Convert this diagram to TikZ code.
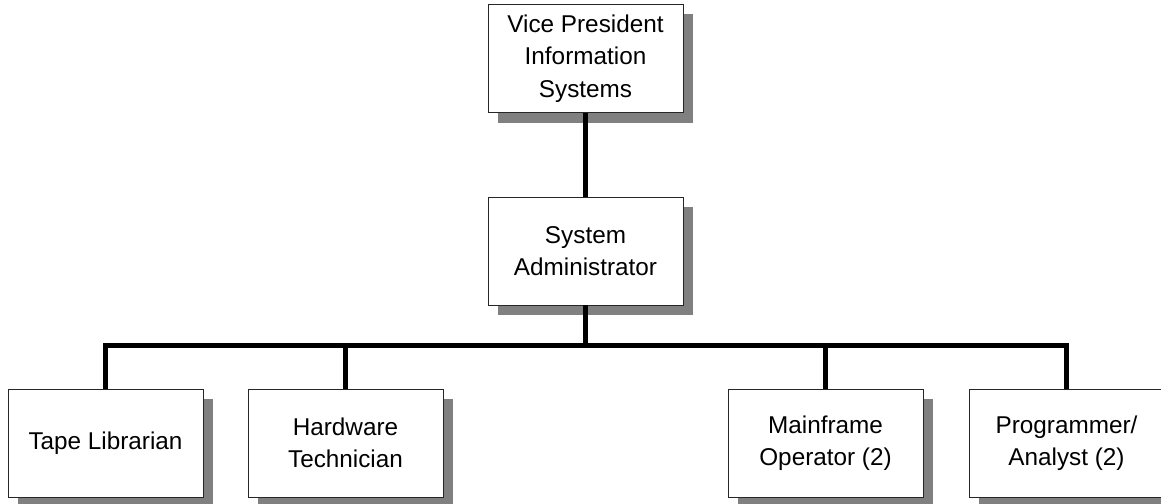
\documentclass[tikz,border=0pt]{standalone}
\usepackage{fontspec}
\setmainfont{Liberation Sans}
\usetikzlibrary{shadows}
\definecolor{shadowgray}{RGB}{128,128,128}
\tikzset{
  orgbox/.style={draw=black!85, line width=0.9pt, fill=white, minimum width=195pt, minimum height=108pt,
    inner sep=0pt, align=center, font=\fontsize{24.3}{32.5}\selectfont,
    drop shadow={shadow xshift=10pt, shadow yshift=-10pt, fill=shadowgray, opacity=1, draw=none}},
  link/.style={line width=5pt, black}
}
\begin{document}
\begin{tikzpicture}[x=1pt,y=1pt]
\useasboundingbox (0,0) rectangle (1161,-503);
\clip (0,0) rectangle (1161,-503);
\coordinate (bus) at (585.5,-345);
\coordinate (vpc) at (585.5,-58.5);
\coordinate (sac) at (585.5,-251);
\node[orgbox] (vp) at (vpc) {Vice President\\Information\\Systems};
\node[orgbox] (sa) at (sac) {System\\Administrator};
\node[orgbox] (tl) at (105.5,-443) {Tape Librarian};
\node[orgbox] (hw) at (345.5,-443) {Hardware\\Technician};
\node[orgbox] (mf) at (825.5,-443) {Mainframe\\Operator (2)};
\node[orgbox] (pa) at (1066.5,-443) {Programmer/\\Analyst (2)};
\draw[link] (vp.south) -- (sa.north);
\draw[link] (sa.south) -- (bus);
\draw[link] (tl.north) |- (bus);
\draw[link] (pa.north) |- (bus);
\draw[link] (hw.north) -- (hw.north |- bus);
\draw[link] (mf.north) -- (mf.north |- bus);
\end{tikzpicture}
\end{document}
